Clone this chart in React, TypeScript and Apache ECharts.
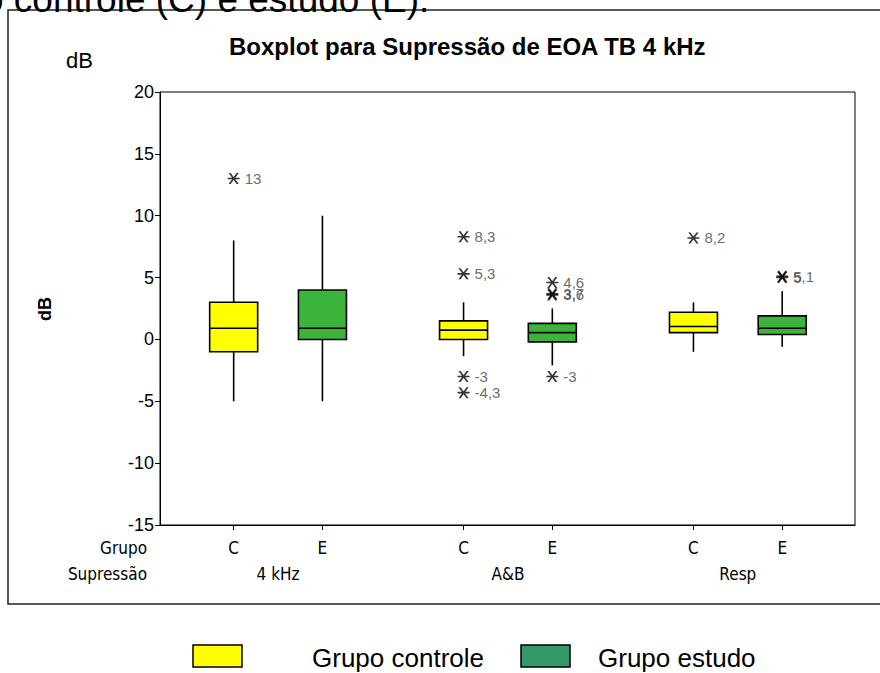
import React, { useEffect, useRef } from "react";
import * as echarts from "echarts";

// ---- data ----
const groups = ["4 kHz", "A&B", "Resp"];
const subgroups = ["C", "E"];
const seriesNames = ["Grupo controle", "Grupo estudo"];
// [min, q1, median, q3, max] per group
const controleStats = [
  [-5, -1, 0.9, 3, 8],
  [-1.35, 0, 0.75, 1.5, 3],
  [-1, 0.55, 1.05, 2.2, 3],
];
const estudoStats = [
  [-5, 0, 0.9, 4, 10],
  [-2.1, -0.2, 0.55, 1.3, 2.5],
  [-0.6, 0.4, 0.9, 1.9, 3.9],
];
const controleOutliers = [[13], [8.3, 5.3, -3, -4.3], [8.2]];
const estudoOutliers = [[], [4.6, 3.7, 3.6, -3], [5, 5.1]];
const yTicks = { min: -15, max: 20, interval: 5 };

// ---- layout helpers ----
const GROUP_STEP = 2.59;
const posOf = (g: number, s: number) => 1 + g * GROUP_STEP + s;
const X_MIN = 0.17;
const X_MAX = 8.0;

const COLORS = ["#FFFF00", "#3CB43C"];
const LEGEND_COLORS = ["#FFFF00", "#339966"];
const SANS = "'Liberation Sans', Arial, sans-serif";
const NARROW = "'Liberation Sans Narrow', 'Arial Narrow', 'DejaVu Sans Condensed', sans-serif";

const ASTERISK =
  "path://M0 8.6 L20 8.6 L20 11.4 L0 11.4 Z M1.5 0 L5 0 L18.5 20 L15 20 Z M15 0 L18.5 0 L5 20 L1.5 20 Z";

const fmt = (v: number) => String(v).replace(".", ",");

export default function App() {
  const ref = useRef<HTMLDivElement>(null);

  useEffect(() => {
    if (!ref.current) return;
    const chart = echarts.init(ref.current, undefined, { renderer: "svg" });

    const tickPositions: number[] = [];
    const tickLabels: Record<string, string> = {};
    groups.forEach((_, g) =>
      subgroups.forEach((s, si) => {
        const p = posOf(g, si);
        tickPositions.push(p);
        tickLabels[p.toFixed(3)] = s;
      })
    );
    const groupMids = groups.map((_, g) => posOf(g, 0.5));
    const groupLabels: Record<string, string> = {};
    groups.forEach((name, g) => (groupLabels[groupMids[g].toFixed(3)] = name));

    const statsAll = [controleStats, estudoStats];
    const outAll = [controleOutliers, estudoOutliers];

    const boxSeries = statsAll.map((stats, si) => ({
      type: "custom",
      name: seriesNames[si],
      xAxisIndex: 0,
      yAxisIndex: 0,
      encode: { x: 0, y: [1, 2, 3, 4, 5] },
      data: stats.map((st, g) => [posOf(g, si), ...st]),
      z: 3,
      renderItem: (params: any, api: any) => {
        const x = api.value(0);
        const pMin = api.coord([x, api.value(1)]);
        const pQ1 = api.coord([x, api.value(2)]);
        const pMed = api.coord([x, api.value(3)]);
        const pQ3 = api.coord([x, api.value(4)]);
        const pMax = api.coord([x, api.value(5)]);
        const half = 24;
        const cx = pMed[0];
        const lineStyle = { stroke: "#000", lineWidth: 1.6 };
        return {
          type: "group",
          children: [
            { type: "line", shape: { x1: cx, y1: pMax[1], x2: cx, y2: pQ3[1] }, style: lineStyle },
            { type: "line", shape: { x1: cx, y1: pQ1[1], x2: cx, y2: pMin[1] }, style: lineStyle },
            {
              type: "rect",
              shape: { x: cx - half, y: pQ3[1], width: half * 2, height: pQ1[1] - pQ3[1] },
              style: { fill: COLORS[si], stroke: "#000", lineWidth: 1.6 },
            },
            { type: "line", shape: { x1: cx - half, y1: pMed[1], x2: cx + half, y2: pMed[1] }, style: lineStyle },
          ],
        };
      },
    }));

    const outlierSeries = outAll.map((outs, si) => ({
      type: "scatter",
      name: seriesNames[si] + " outliers",
      xAxisIndex: 0,
      yAxisIndex: 0,
      symbol: ASTERISK,
      symbolSize: [12, 11],
      itemStyle: { color: "#000" },
      z: 4,
      label: {
        show: true,
        position: "right",
        distance: 5,
        formatter: "{b}",
        color: "#444",
        fontSize: 15,
        fontFamily: SANS,
      },
      data: outs.flatMap((vals, g) =>
        vals.map((v) => ({ name: fmt(v), value: [posOf(g, si), v] }))
      ),
    }));

    chart.setOption({
      animation: false,
      backgroundColor: "#fff",
      title: {
        text: "Boxplot para Supressão de EOA TB 4 kHz",
        left: 224,
        top: 29,
        textStyle: { fontSize: 24, fontWeight: "bold", color: "#000", fontFamily: SANS },
      },
      grid: {
        left: 160,
        right: 25,
        top: 92,
        bottom: 148,
        show: true,
        borderColor: "#000",
        borderWidth: 1,
        backgroundColor: "transparent",
      },
      xAxis: [
        {
          type: "value",
          min: X_MIN,
          max: X_MAX,
          position: "bottom",
          splitLine: { show: false },
          axisLine: { show: true, onZero: false, lineStyle: { color: "#000", width: 1 } },
          axisTick: { show: true, length: 5, customValues: tickPositions, lineStyle: { color: "#000" } },
          axisLabel: {
            customValues: tickPositions,
            formatter: (v: number) => tickLabels[v.toFixed(3)] ?? "",
            margin: 14,
            fontSize: 17,
            color: "#000",
            fontFamily: NARROW,
          },
        },
        {
          type: "value",
          min: X_MIN,
          max: X_MAX,
          position: "bottom",
          offset: 26,
          splitLine: { show: false },
          axisLine: { show: false, onZero: false },
          axisTick: { show: false },
          axisLabel: {
            customValues: groupMids,
            formatter: (v: number) => groupLabels[v.toFixed(3)] ?? "",
            margin: 14,
            fontSize: 17,
            color: "#000",
            fontFamily: NARROW,
          },
        },
      ],
      yAxis: {
        type: "value",
        min: yTicks.min,
        max: yTicks.max,
        interval: yTicks.interval,
        splitLine: { show: false },
        axisLine: { show: true, onZero: false, lineStyle: { color: "#000", width: 1 } },
        axisTick: { show: true, length: 5, lineStyle: { color: "#000" } },
        axisLabel: { fontSize: 18, color: "#000", margin: 6, fontFamily: SANS },
      },
      graphic: [
        {
          type: "text",
          left: -17,
          top: -19,
          style: { text: "o controle (C) e estudo (E).", fontSize: 37, fill: "#000", fontFamily: SANS },
          z: 10,
        },
        {
          type: "rect",
          shape: { x: 8, y: 10, width: 900, height: 594 },
          style: { fill: "none", stroke: "#222", lineWidth: 1.5 },
          z: 0,
        },
        {
          type: "text",
          x: 66,
          y: 60,
          style: { text: "dB", fontSize: 22, fill: "#000", fontFamily: SANS, verticalAlign: "middle" },
        },
        {
          type: "text",
          x: 45,
          y: 309,
          rotation: Math.PI / 2,
          style: {
            text: "dB",
            fontSize: 18,
            fontWeight: "bold",
            fill: "#000",
            fontFamily: SANS,
            align: "center",
            verticalAlign: "middle",
          },
        },
        {
          type: "text",
          x: 147,
          y: 548,
          style: { text: "Grupo", fontSize: 17, fill: "#000", fontFamily: NARROW, align: "right", verticalAlign: "middle" },
        },
        {
          type: "text",
          x: 147,
          y: 574,
          style: { text: "Supressão", fontSize: 17, fill: "#000", fontFamily: NARROW, align: "right", verticalAlign: "middle" },
        },
        {
          type: "rect",
          shape: { x: 193, y: 645, width: 49, height: 22 },
          style: { fill: LEGEND_COLORS[0], stroke: "#000", lineWidth: 1.5 },
        },
        {
          type: "text",
          x: 312,
          y: 658,
          style: { text: seriesNames[0], fontSize: 26, fill: "#000", fontFamily: SANS, verticalAlign: "middle" },
        },
        {
          type: "rect",
          shape: { x: 521, y: 645, width: 49, height: 22 },
          style: { fill: LEGEND_COLORS[1], stroke: "#000", lineWidth: 1.5 },
        },
        {
          type: "text",
          x: 598,
          y: 658,
          style: { text: seriesNames[1], fontSize: 26, fill: "#000", fontFamily: SANS, verticalAlign: "middle" },
        },
      ],
      series: [...boxSeries, ...outlierSeries],
    });

    return () => chart.dispose();
  }, []);

  return (
    <div
      ref={ref}
      style={{ position: "fixed", left: 0, top: 0, width: 880, height: 673 }}
    />
  );
}
